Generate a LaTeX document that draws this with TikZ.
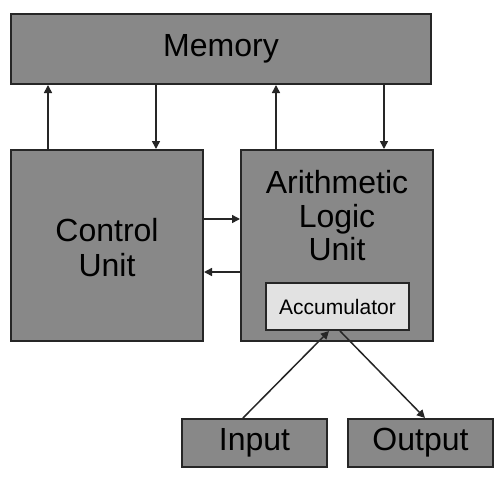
\documentclass[tikz,border=0pt]{standalone}
\usepackage{fontspec}
\setmainfont{Liberation Sans}
\usetikzlibrary{arrows.meta}
\definecolor{boxgray}{HTML}{888888}
\definecolor{accgray}{HTML}{E2E2E2}
\definecolor{edge}{HTML}{262626}
\begin{document}
\begin{tikzpicture}[x=1pt,y=-1pt,
  box/.style={draw=edge,line width=2pt,fill=boxgray,rectangle,inner sep=0pt,align=center,
    font=\fontsize{32}{34}\selectfont,text=black},
  accbox/.style={draw=edge,line width=2pt,fill=accgray,rectangle,inner sep=0pt,
    font=\fontsize{21}{24}\selectfont,text=black},
  arr/.style={draw=edge,line width=1.5pt,-{Triangle[length=8pt,width=8pt]}}]
\useasboundingbox (0,0) rectangle (504,480);
\fill[white] (0,0) rectangle (504,480);
\node[box,minimum width=420pt,minimum height=70pt] (mem) at (221,49) {Memory};
\node[box,minimum width=192pt,minimum height=191pt] (cu) at (107,245.5) {};
\node[align=center,font=\fontsize{32}{35}\selectfont] (cut) at (107,248) {Control\\Unit};
\node[box,minimum width=192pt,minimum height=191pt] (alu) at (337,245.5) {};
\node[align=center,font=\fontsize{32}{33.5}\selectfont] (alut) at (337,216) {Arithmetic\\Logic\\Unit};
\node[accbox,minimum width=143pt,minimum height=47pt] (acc) at (337.5,306.5) {Accumulator};
\node[box,minimum width=145pt,minimum height=48pt] (in) at (254.5,443) {Input};
\node[box,minimum width=145pt,minimum height=48pt] (out) at (420.5,443) {Output};
% memory <-> CU
\draw[arr] ([xshift=38pt]cu.north west) -- ([xshift=38pt]cu.north west |- mem.south);
\draw[arr] ([xshift=146pt]cu.north west |- mem.south) -- ([xshift=146pt]cu.north west);
% memory <-> ALU
\draw[arr] ([xshift=36pt]alu.north west) -- ([xshift=36pt]alu.north west |- mem.south);
\draw[arr] ([xshift=144pt]alu.north west |- mem.south) -- ([xshift=144pt]alu.north west);
% CU <-> ALU
\draw[arr] ([yshift=-70pt]cu.north east) -- ([yshift=-70pt]cu.north east -| alu.west);
\draw[arr] ([yshift=-123pt]alu.north west) -- ([yshift=-123pt]alu.north west -| cu.east);
% IO
\draw[arr] ([xshift=-11.5pt]in.north) -- ([xshift=-8.5pt]acc.south);
\draw[arr] ([xshift=2.5pt]acc.south) -- ([xshift=4.5pt]out.north);
\end{tikzpicture}
\end{document}
